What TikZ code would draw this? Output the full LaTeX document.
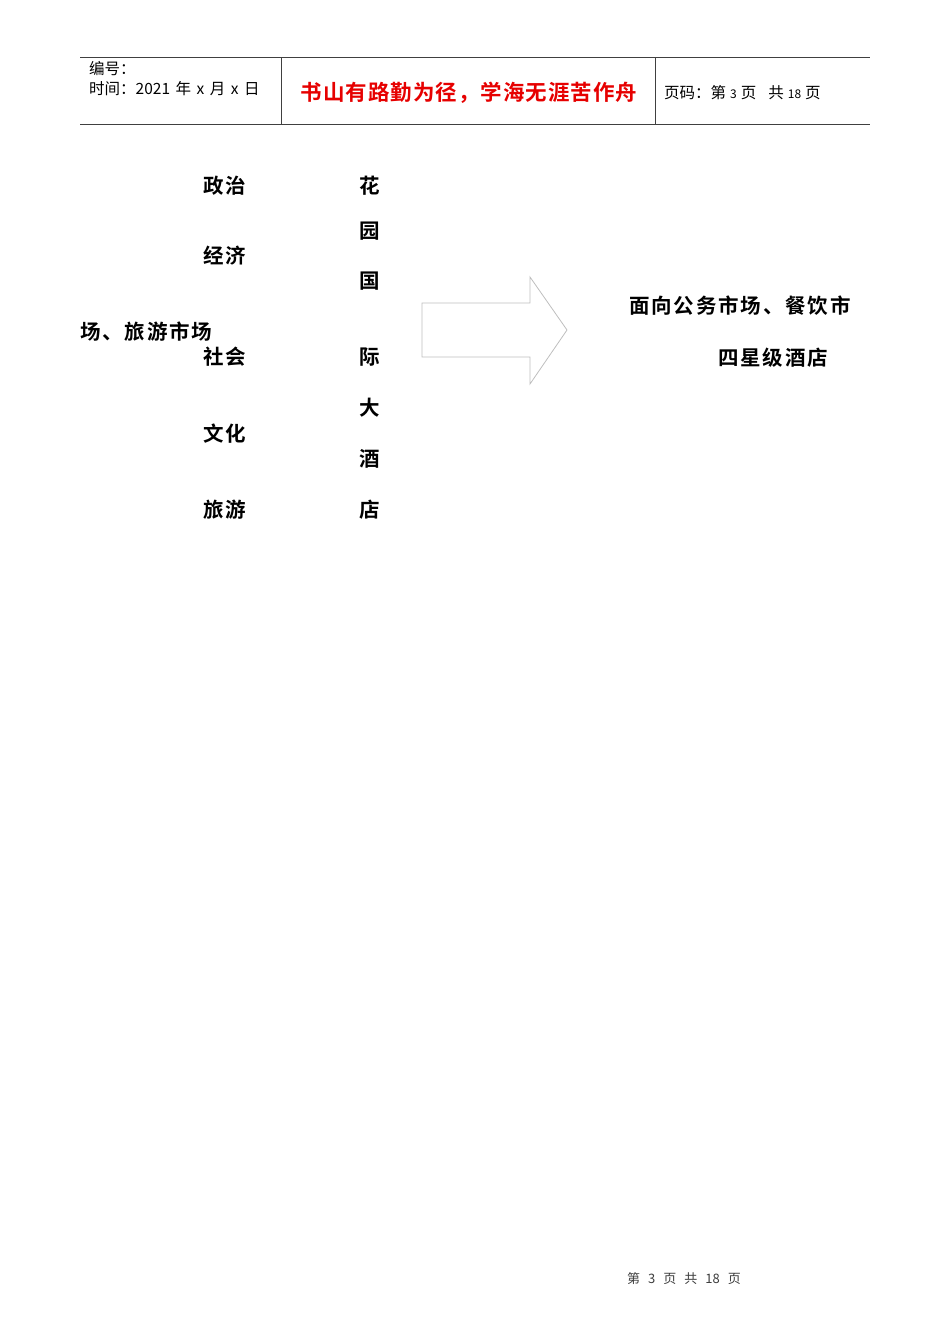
\documentclass[tikz,border=0pt]{standalone}
\usepackage{fontspec}
\newfontfamily\cjk{Noto Sans CJK SC}
\newfontfamily\cjkb[LetterSpace=9]{Noto Sans CJK SC Bold}
\newfontfamily\cjkt[LetterSpace=4.5]{Noto Sans CJK SC Bold}
\definecolor{titlered}{RGB}{230,0,0}
\definecolor{arrowgray}{RGB}{190,190,190}
\definecolor{footgray}{RGB}{60,60,60}
\begin{document}
\begin{tikzpicture}[x=1pt,y=-1pt,
  hdr/.style={inner sep=0pt,font=\cjk\fontsize{15.5}{15.5}\selectfont},
  body/.style={inner sep=0pt,font=\cjkb\fontsize{20.5}{20.5}\selectfont},
  rule/.style={line width=0.8pt,black!75}]
\useasboundingbox (0,0) rectangle (950,1344);
% header table
\coordinate (tl) at (80,57);
\coordinate (tr) at (870,57);
\coordinate (bl) at (80,124);
\coordinate (br) at (870,124);
\coordinate (v1t) at (281,57);
\coordinate (v1b) at (281,124);
\coordinate (v2t) at (655,57);
\coordinate (v2b) at (655,124);
\draw[rule] (tl) -- (tr);
\draw[rule] (bl) -- (br);
\draw[rule] (v1t) -- (v1b);
\draw[rule] (v2t) -- (v2b);
\node[hdr,anchor=base west] (bh) at (89,74) {编号：};
\node[hdr,anchor=base west] (sj) at (89,94) {时间：2021\hspace{5.5pt}年\hspace{5.5pt}x\hspace{5.5pt}月\hspace{5.5pt}x\hspace{5.5pt}日};
\node[inner sep=0pt,anchor=base,text=titlered,font=\cjkt\fontsize{21.5}{21.5}\selectfont] (title) at (469,100) {书山有路勤为径，学海无涯苦作舟};
\node[hdr,anchor=base west] (ym) at (664,98) {页码：第\hspace{4pt}{\fontsize{12}{12}\selectfont 3}\hspace{4pt}页\hspace{12pt}共\hspace{4pt}{\fontsize{12}{12}\selectfont 18}\hspace{4pt}页};
% left column
\node[body,anchor=base] (zz) at (225,193) {政治};
\node[body,anchor=base] (jj) at (225,263) {经济};
\node[body,anchor=base] (sh) at (225,364) {社会};
\node[body,anchor=base] (wh) at (225,441) {文化};
\node[body,anchor=base] (ly) at (225,517) {旅游};
\node[body,anchor=base west] (sc) at (80,339) {场、旅游市场};
% vertical hotel name
\node[body,anchor=base] (c1) at (370,193) {花};
\node[body,anchor=base] (c2) at (370,238) {园};
\node[body,anchor=base] (c3) at (370,288) {国};
\node[body,anchor=base] (c4) at (370,364) {际};
\node[body,anchor=base] (c5) at (370,415) {大};
\node[body,anchor=base] (c6) at (370,466) {酒};
\node[body,anchor=base] (c7) at (370,517) {店};
% block arrow
\draw[arrowgray,line width=0.8pt,line join=miter]
  (422,303) -- (530,303) -- (530,277) -- (567,330) -- (530,384) -- (530,357) -- (422,357) -- cycle;
% right text
\node[body,anchor=base west] (r1) at (629,313) {面向公务市场、餐饮市};
\node[body,anchor=base west] (r2) at (718,365) {四星级酒店};
% footer
\node[inner sep=0pt,anchor=base,text=footgray,font=\cjk\fontsize{13}{13}\selectfont] (foot) at (684,1283) {第\hspace{8pt}3\hspace{8pt}页\hspace{8pt}共\hspace{8pt}18\hspace{8pt}页};
\end{tikzpicture}
\end{document}
